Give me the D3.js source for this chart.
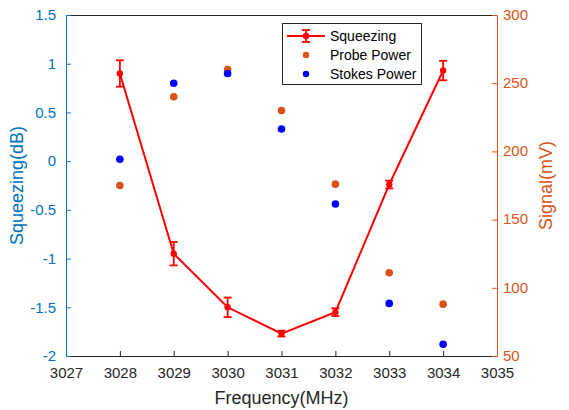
<!DOCTYPE html>
<html><head><meta charset="utf-8">
<script src="https://cdn.jsdelivr.net/npm/d3@7"></script>
<style>body{margin:0;background:#fff}text{font-family:"Liberation Sans",Arial,sans-serif}</style>
</head><body><svg id="c" width="569" height="410"></svg>
<script>
const freqs = [3028, 3029, 3030, 3031, 3032, 3033, 3034];
const squeezing = [0.90, -0.95, -1.50, -1.77, -1.55, -0.24, 0.93];
const squeezingErr = [0.135, 0.12, 0.10, 0.03, 0.04, 0.04, 0.10];
const probePower = [175, 240, 260, 230, 176, 111, 88];
const stokesPower = [0.02, 0.80, 0.90, 0.33, -0.44, -1.46, -1.88];
const xTicks = [3027, 3028, 3029, 3030, 3031, 3032, 3033, 3034, 3035];
const yLeftTicks = [-2, -1.5, -1, -0.5, 0, 0.5, 1, 1.5];
const yRightTicks = [50, 100, 150, 200, 250, 300];
const legendLabels = ["Squeezing", "Probe Power", "Stokes Power"];

const L = 66, R = 497, T = 15, B = 356;
const blueAx = "#0072BD", orangeAx = "#D95319", red = "#FF0000", blue = "#0000FF", gray = "#262626";
const svg = d3.select("#c");
const x = d3.scaleLinear().domain([3027, 3035]).range([L, R]);
const yL = d3.scaleLinear().domain([-2, 1.5]).range([B, T]);
const yR = d3.scaleLinear().domain([50, 300]).range([B, T]);

// top border
svg.append("line").attr("x1", L).attr("x2", R).attr("y1", T + 0.5).attr("y2", T + 0.5).attr("stroke", gray).attr("stroke-width", 1);

// x axis
const gx = svg.append("g").attr("transform", `translate(0,${B})`)
  .call(d3.axisBottom(x).tickValues(xTicks).tickFormat(d3.format("d")).tickSizeInner(-5).tickSizeOuter(0).tickPadding(11));
gx.select(".domain").attr("stroke", gray);
gx.selectAll(".tick line").attr("stroke", gray);
gx.selectAll("text").attr("fill", gray).style("font-size", "15px");

// left axis
const gl = svg.append("g").attr("transform", `translate(${L},0)`)
  .call(d3.axisLeft(yL).tickValues(yLeftTicks).tickFormat(d => String(d)).tickSizeInner(-5).tickSizeOuter(0).tickPadding(10));
gl.select(".domain").attr("stroke", blueAx);
gl.selectAll(".tick line").attr("stroke", blueAx);
gl.selectAll("text").attr("fill", blueAx).style("font-size", "15px");

// right axis
const gr = svg.append("g").attr("transform", `translate(${R},0)`)
  .call(d3.axisRight(yR).tickValues(yRightTicks).tickSizeInner(-5).tickSizeOuter(0).tickPadding(6));
gr.select(".domain").attr("stroke", orangeAx);
gr.selectAll(".tick line").attr("stroke", orangeAx);
gr.selectAll("text").attr("fill", orangeAx).style("font-size", "15px").attr("dy", "0.28em");

// axis labels
svg.append("text").attr("x", (L + R) / 2).attr("y", 404).attr("text-anchor", "middle").attr("fill", gray).style("font-size", "18px").text("Frequency(MHz)");
svg.append("text").attr("transform", `translate(23,${(T + B) / 2}) rotate(-90)`).attr("text-anchor", "middle").attr("fill", blueAx).style("font-size", "18px").text("Squeezing(dB)");
svg.append("text").attr("transform", `translate(552,${(T + B) / 2}) rotate(-90)`).attr("text-anchor", "middle").attr("fill", orangeAx).style("font-size", "18px").text("Signal(mV)");

// probe & stokes dots
svg.append("g").selectAll("circle").data(freqs).join("circle")
  .attr("cx", d => x(d)).attr("cy", (d, i) => yR(probePower[i])).attr("r", 3.8).attr("fill", orangeAx);
svg.append("g").selectAll("circle").data(freqs).join("circle")
  .attr("cx", d => x(d)).attr("cy", (d, i) => yL(stokesPower[i])).attr("r", 3.8).attr("fill", blue);

// squeezing line + error bars
const line = d3.line().x((d, i) => x(freqs[i])).y(d => yL(d));
svg.append("path").datum(squeezing).attr("d", line).attr("fill", "none").attr("stroke", red).attr("stroke-width", 2);
const eb = svg.append("g").attr("stroke", red).attr("stroke-width", 1.8);
freqs.forEach((f, i) => {
  const cx = x(f), y1 = yL(squeezing[i] + squeezingErr[i]), y2 = yL(squeezing[i] - squeezingErr[i]);
  eb.append("line").attr("x1", cx).attr("x2", cx).attr("y1", y1).attr("y2", y2);
  eb.append("line").attr("x1", cx - 4).attr("x2", cx + 4).attr("y1", y1).attr("y2", y1);
  eb.append("line").attr("x1", cx - 4).attr("x2", cx + 4).attr("y1", y2).attr("y2", y2);
});
svg.append("g").selectAll("circle").data(squeezing).join("circle")
  .attr("cx", (d, i) => x(freqs[i])).attr("cy", d => yL(d)).attr("r", 3.2).attr("fill", red);

// legend
const lg = svg.append("g");
lg.append("rect").attr("x", 282.5).attr("y", 23.5).attr("width", 139).attr("height", 61).attr("fill", "#fff").attr("stroke", gray).attr("stroke-width", 1);
const rows = [36, 55, 74];
lg.append("line").attr("x1", 287).attr("x2", 325).attr("y1", rows[0]).attr("y2", rows[0]).attr("stroke", red).attr("stroke-width", 2);
lg.append("line").attr("x1", 306).attr("x2", 306).attr("y1", rows[0] - 6).attr("y2", rows[0] + 6).attr("stroke", red).attr("stroke-width", 1.8);
lg.append("line").attr("x1", 302).attr("x2", 310).attr("y1", rows[0] - 6).attr("y2", rows[0] - 6).attr("stroke", red).attr("stroke-width", 1.8);
lg.append("line").attr("x1", 302).attr("x2", 310).attr("y1", rows[0] + 6).attr("y2", rows[0] + 6).attr("stroke", red).attr("stroke-width", 1.8);
lg.append("circle").attr("cx", 306).attr("cy", rows[0]).attr("r", 3.2).attr("fill", red);
lg.append("circle").attr("cx", 306).attr("cy", rows[1]).attr("r", 3.2).attr("fill", orangeAx);
lg.append("circle").attr("cx", 306).attr("cy", rows[2]).attr("r", 3.2).attr("fill", blue);
lg.selectAll("text.l").data(legendLabels).join("text").attr("class", "l")
  .attr("x", 330).attr("y", (d, i) => rows[i] + 5).attr("fill", "#000").style("font-size", "14px").text(d => d);
</script></body></html>
